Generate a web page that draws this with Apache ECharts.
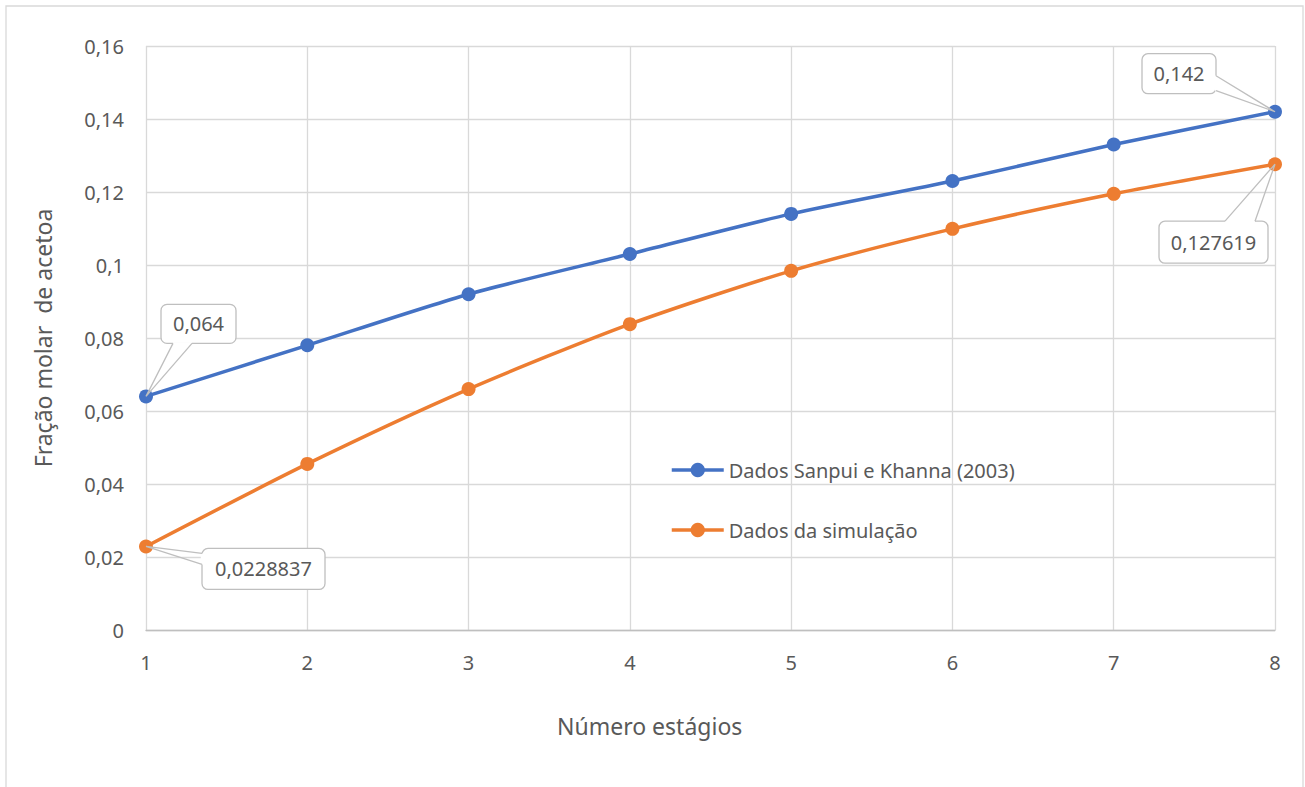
<!DOCTYPE html>
<html><head><meta charset="utf-8">
<script src="https://cdn.jsdelivr.net/npm/echarts@6/dist/echarts.min.js"></script>
<style>html,body{margin:0;padding:0;background:#fff}#chart{width:1305px;height:787px}</style>
</head><body><div id="chart"></div>
<script>
// Stages (x categories) and acetone mole fraction for each data set
const stages = ['1', '2', '3', '4', '5', '6', '7', '8'];
const sanpuiKhanna = [0.064, 0.078, 0.092, 0.103, 0.114, 0.123, 0.133, 0.142];
const simulacao = [0.0228837, 0.0455, 0.066, 0.0838, 0.0984, 0.1099, 0.1195, 0.127619];
const seriesNames = ['Dados Sanpui e Khanna (2003)', 'Dados da simulação'];
const yMin = 0, yMax = 0.16, yStep = 0.02;

const FONT = '"Noto Sans", "Open Sans", sans-serif';
const TEXT = '#595959';
const BLUE = '#4472C4';
const ORANGE = '#ED7D31';

const fmt = v => String(+Number(v).toFixed(7)).replace('.', ',');

const chart = echarts.init(document.getElementById('chart'), null, { renderer: 'svg' });

const lineSeries = (name, data, color) => ({
  name, type: 'line', data,
  smooth: 0.25,
  symbol: 'circle', symbolSize: 14,
  lineStyle: { color, width: 3.5 },
  itemStyle: { color },
  emphasis: { disabled: true },
  z: 3
});

chart.setOption({
  animation: false,
  backgroundColor: '#fff',
  textStyle: { fontFamily: FONT },
  title: {
    text: 'Número estágios',
    left: 552, top: 709,
    textStyle: { fontFamily: FONT, fontSize: 23, fontWeight: 'normal', color: TEXT }
  },
  grid: { left: 146, right: 30, top: 46, bottom: 157 },
  legend: {
    orient: 'vertical',
    left: 665, top: 455,
    itemGap: 40, itemWidth: 52, itemHeight: 18,
    lineStyle: { width: 3.5 },
    textStyle: { fontFamily: FONT, fontSize: 20, color: TEXT },
    data: seriesNames
  },
  xAxis: {
    type: 'category', data: stages, boundaryGap: false,
    axisLine: { lineStyle: { color: '#bfbfbf', width: 1.3 } },
    axisTick: { show: false },
    axisLabel: { fontFamily: FONT, fontSize: 20, color: TEXT, margin: 22 },
    splitLine: { show: true, lineStyle: { color: '#d9d9d9', width: 1.3 } }
  },
  yAxis: {
    type: 'value', min: yMin, max: yMax, interval: yStep,
    name: 'Fração molar  de acetoa',
    nameLocation: 'middle', nameGap: 92,
    nameTextStyle: { fontFamily: FONT, fontSize: 23, color: TEXT },
    axisLine: { show: false },
    axisTick: { show: false },
    axisLabel: { fontFamily: FONT, fontSize: 20, color: TEXT, margin: 22, formatter: fmt },
    splitLine: { lineStyle: { color: '#d9d9d9', width: 1.3 } }
  },
  series: [
    lineSeries(seriesNames[0], sanpuiKhanna, BLUE),
    lineSeries(seriesNames[1], simulacao, ORANGE)
  ]
});

// Callout boxes: offset of the box from its point, box size, and where the pointer meets the box
const callouts = [
  { values: sanpuiKhanna, index: 0, dx: 15, dy: -92, w: 75, h: 39, side: 'bottom', a: 12, b: 31 },
  { values: simulacao, index: 0, dx: 56, dy: 2, w: 123, h: 41, side: 'left', a: 5, b: 16 },
  { values: sanpuiKhanna, index: 7, dx: -133, dy: -58, w: 74, h: 40, side: 'right', a: 22, b: 37 },
  { values: simulacao, index: 7, dx: -116, dy: 57, w: 109, h: 42, side: 'top', a: 66, b: 96 }
];

const graphics = [{
  type: 'rect', silent: true, z: 0,
  shape: { x: 6, y: 6, width: 1297, height: 820 },
  style: { fill: 'none', stroke: '#d9d9d9', lineWidth: 1.3 }
}];

callouts.forEach(c => {
  const v = c.values[c.index];
  const [tx, ty] = chart.convertToPixel({ gridIndex: 0 }, [c.index, v]);
  const x = tx + c.dx, y = ty + c.dy;
  let p1, p2;
  if (c.side === 'bottom') { p1 = [x + c.a, y + c.h]; p2 = [x + c.b, y + c.h]; }
  else if (c.side === 'top') { p1 = [x + c.a, y]; p2 = [x + c.b, y]; }
  else if (c.side === 'left') { p1 = [x, y + c.a]; p2 = [x, y + c.b]; }
  else { p1 = [x + c.w, y + c.a]; p2 = [x + c.w, y + c.b]; }
  graphics.push({
    type: 'rect', silent: true, z: 10,
    shape: { x, y, width: c.w, height: c.h, r: 6 },
    style: { fill: '#fff', stroke: '#bfbfbf', lineWidth: 1.3 }
  });
  graphics.push({
    type: 'line', silent: true, z: 11,
    shape: { x1: p1[0], y1: p1[1], x2: p2[0], y2: p2[1] },
    style: { stroke: '#fff', lineWidth: 2.5 }
  });
  graphics.push({
    type: 'polyline', silent: true, z: 12,
    shape: { points: [p1, [tx, ty], p2] },
    style: { stroke: '#bfbfbf', lineWidth: 1.3, fill: null }
  });
  graphics.push({
    type: 'text', silent: true, z: 13,
    x: x + c.w / 2, y: y + c.h / 2,
    style: {
      text: fmt(v), font: '20px ' + FONT, fill: TEXT,
      textAlign: 'center', textVerticalAlign: 'middle'
    }
  });
});

chart.setOption({ graphic: graphics });
</script>
</body></html>
